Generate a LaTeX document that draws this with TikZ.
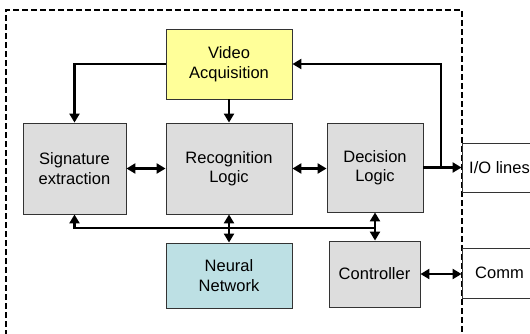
\documentclass[tikz,border=0pt]{standalone}
\usepackage{fontspec}
\setmainfont{Liberation Sans}
\usetikzlibrary{arrows.meta}
\definecolor{vidyellow}{RGB}{255,255,153}
\definecolor{boxgray}{RGB}{221,221,221}
\definecolor{nnteal}{RGB}{189,224,228}
\begin{document}
\begin{tikzpicture}[x=1pt,y=-1pt,
	block/.style={draw=black!80, line width=0.9pt, fill=boxgray, align=center, inner sep=0pt,
		font=\fontsize{16.5}{19.5}\selectfont},
	port/.style={draw=black!80, line width=0.9pt, inner sep=0pt, minimum width=75, align=center,
		font=\fontsize{16.5}{19.5}\selectfont},
	arr/.style={line width=2.4pt, -{Triangle[length=9pt,width=10pt]}},
	darr/.style={line width=2.4pt, {Triangle[length=9pt,width=10pt]}-{Triangle[length=9pt,width=10pt]}}]
	\useasboundingbox (0,0) rectangle (530,333);
	% frame
	\draw [line width=1.8pt, dash pattern=on 6pt off 3pt] (6,345) -- (6,10) -- (462,10) -- (462,345);
	% blocks
	\node (video) [block, fill=vidyellow, minimum width=126, minimum height=70] at (229,64) {Video\\Acquisition};
	\node (sig) [block, minimum width=103, minimum height=91] at (74.5,168.5) {Signature\\extraction};
	\node (rec) [block, minimum width=126, minimum height=91] at (229,168.5) {Recognition\\Logic};
	\node (dec) [block, minimum width=96, minimum height=89] at (375,167.5) {Decision\\Logic};
	\node (nn) [block, fill=nnteal, minimum width=126, minimum height=65] at (229,275.5) {Neural\\Network};
	\node (ctrl) [block, minimum width=91, minimum height=66] at (374.5,274) {Controller};
	\node (io) [port, minimum height=49] at (499.5,167.5) {I/O lines};
	\node (comm) [port, minimum height=50] at (499.5,273) {Comm};
	\coordinate (split) at (441,167.5);
	\coordinate (bus) at (0,228);
	% connectors
	\draw [arr] (video.west) -| (sig.north);
	\draw [arr] (video.south) -- (rec.north);
	\draw [darr] (sig.east) -- (rec.west);
	\draw [darr] (rec.east) -- (rec.east -| dec.west);
	\draw [arr] (dec.east) -- (io.west);
	\draw [arr] (split) |- (video.east);
	\draw [arr] (dec.south |- bus) -| (sig.south);
	\draw [darr] (rec.south) -- (nn.north);
	\draw [darr] (dec.south) -- (dec.south |- ctrl.north);
	\draw [darr] (ctrl.east) -- (ctrl.east -| comm.west);
\end{tikzpicture}
\end{document}
